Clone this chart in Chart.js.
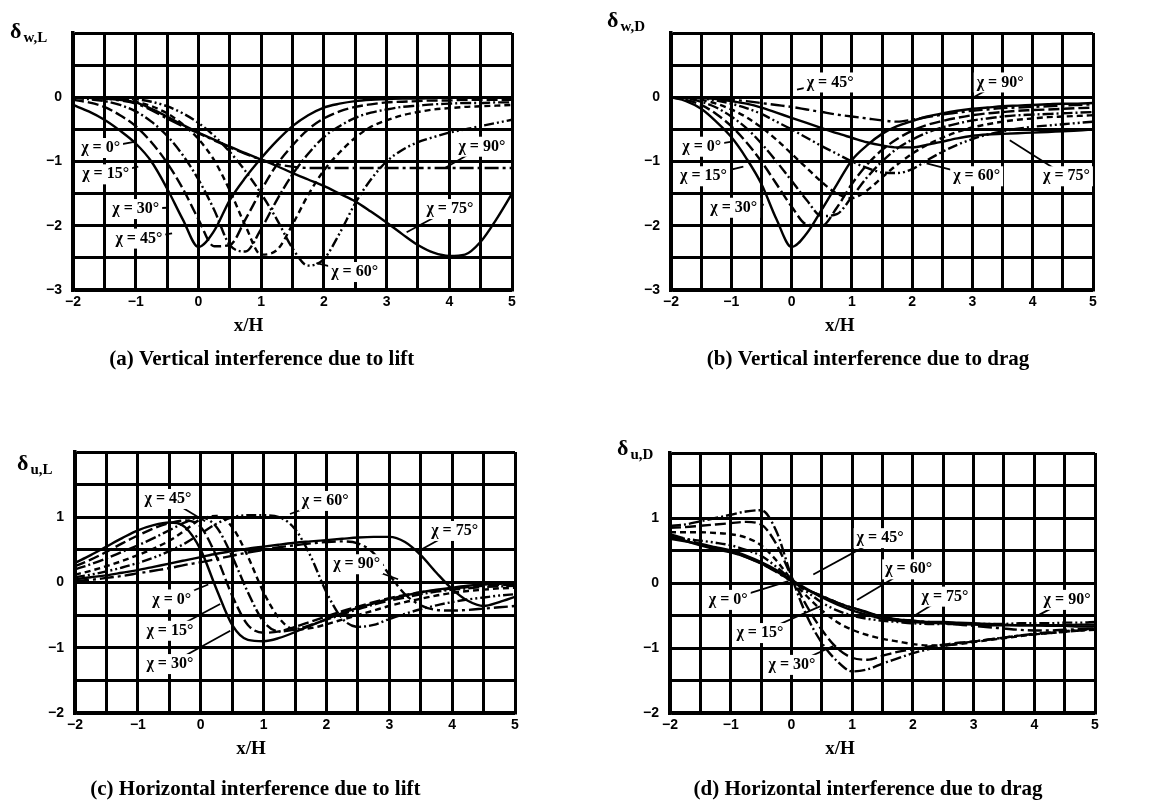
<!DOCTYPE html>
<html>
<head>
<meta charset="utf-8">
<title>Wall interference factors</title>
<script src="https://cdn.jsdelivr.net/npm/chart.js@4.4.1/dist/chart.umd.min.js"></script>
<style>
  html, body { margin: 0; padding: 0; background: #fff; }
  body { position: relative; width: 1156px; height: 812px; overflow: hidden; }
  canvas { position: absolute; }
</style>
</head>
<body>
<canvas id="pa" width="578" height="400" style="left:0;top:0"></canvas>
<canvas id="pb" width="578" height="400" style="left:578px;top:0"></canvas>
<canvas id="pc" width="578" height="412" style="left:0;top:400px"></canvas>
<canvas id="pd" width="578" height="412" style="left:578px;top:400px"></canvas>
<script>
// x/H stations shared by every curve
const xH = [-2, -1.75, -1.5, -1.25, -1, -0.75, -0.5, -0.25, 0, 0.25, 0.5, 0.75, 1, 1.25, 1.5, 1.75, 2,
            2.25, 2.5, 2.75, 3, 3.25, 3.5, 3.75, 4, 4.25, 4.5, 4.75, 5];
const chiNames = ['χ = 0°', 'χ = 15°', 'χ = 30°', 'χ = 45°', 'χ = 60°', 'χ = 75°', 'χ = 90°'];

// (a) vertical interference due to lift
const a0  = [-0.12,-0.22,-0.35,-0.52,-0.72,-1.0,-1.42,-1.9,-2.33,-2.08,-1.6,-1.25,-0.95,-0.68,-0.45,-0.28,-0.16,-0.1,-0.06,-0.04,-0.03,-0.02,-0.02,-0.01,-0.01,0,0,0,0];
const a15 = [-0.04,-0.08,-0.15,-0.28,-0.45,-0.7,-1.02,-1.42,-1.9,-2.32,-2.3,-1.9,-1.45,-1.05,-0.75,-0.5,-0.33,-0.22,-0.15,-0.11,-0.08,-0.07,-0.06,-0.05,-0.05,-0.04,-0.04,-0.04,-0.04];
const a30 = [-0.01,-0.03,-0.06,-0.12,-0.22,-0.38,-0.6,-0.9,-1.28,-1.75,-2.3,-2.4,-2.05,-1.6,-1.2,-0.88,-0.62,-0.45,-0.32,-0.24,-0.19,-0.15,-0.13,-0.11,-0.1,-0.09,-0.09,-0.08,-0.08];
const a45 = [0,0,-0.01,-0.03,-0.07,-0.14,-0.25,-0.42,-0.65,-0.98,-1.45,-2.0,-2.45,-2.38,-1.98,-1.52,-1.14,-0.86,-0.63,-0.46,-0.36,-0.28,-0.23,-0.19,-0.17,-0.15,-0.14,-0.13,-0.12];
const a60 = [0,0,0,-0.01,-0.03,-0.07,-0.14,-0.25,-0.4,-0.6,-0.85,-1.15,-1.5,-1.9,-2.35,-2.62,-2.52,-2.12,-1.65,-1.28,-1.0,-0.82,-0.7,-0.62,-0.55,-0.5,-0.45,-0.4,-0.35];
const a75 = [0,-0.01,-0.02,-0.04,-0.08,-0.18,-0.3,-0.43,-0.55,-0.66,-0.77,-0.87,-0.97,-1.07,-1.18,-1.28,-1.38,-1.5,-1.62,-1.78,-1.95,-2.13,-2.3,-2.42,-2.47,-2.45,-2.25,-1.9,-1.5];
const a90 = [0,-0.01,-0.02,-0.05,-0.1,-0.2,-0.33,-0.45,-0.56,-0.67,-0.78,-0.88,-0.97,-1.04,-1.08,-1.1,-1.1,-1.1,-1.1,-1.1,-1.1,-1.1,-1.1,-1.1,-1.1,-1.1,-1.1,-1.1,-1.1];

// (b) vertical interference due to drag
const b0  = [0,-0.06,-0.18,-0.38,-0.62,-0.95,-1.35,-1.9,-2.33,-2.12,-1.75,-1.36,-0.98,-0.75,-0.57,-0.45,-0.37,-0.3,-0.25,-0.21,-0.18,-0.16,-0.14,-0.13,-0.12,-0.11,-0.1,-0.1,-0.09];
const b15 = [0,-0.04,-0.12,-0.26,-0.45,-0.7,-1.0,-1.35,-1.7,-1.98,-2.0,-1.72,-1.35,-1.05,-0.82,-0.65,-0.52,-0.43,-0.37,-0.32,-0.28,-0.25,-0.23,-0.21,-0.2,-0.19,-0.18,-0.17,-0.16];
const b30 = [0,-0.02,-0.07,-0.16,-0.3,-0.48,-0.72,-1.0,-1.3,-1.6,-1.85,-1.82,-1.55,-1.25,-1.0,-0.8,-0.66,-0.55,-0.47,-0.41,-0.36,-0.33,-0.3,-0.28,-0.27,-0.26,-0.25,-0.24,-0.23];
const b45 = [0,-0.01,-0.04,-0.1,-0.19,-0.31,-0.47,-0.66,-0.88,-1.1,-1.32,-1.5,-1.57,-1.45,-1.25,-1.05,-0.88,-0.74,-0.63,-0.54,-0.47,-0.42,-0.38,-0.35,-0.33,-0.31,-0.3,-0.29,-0.28];
const b60 = [0,-0.01,-0.02,-0.05,-0.1,-0.17,-0.26,-0.38,-0.5,-0.63,-0.76,-0.88,-1.0,-1.1,-1.17,-1.18,-1.12,-0.98,-0.85,-0.74,-0.65,-0.58,-0.53,-0.49,-0.46,-0.44,-0.42,-0.4,-0.38];
const b75 = [0,0,-0.01,-0.03,-0.06,-0.1,-0.16,-0.24,-0.32,-0.4,-0.48,-0.56,-0.63,-0.7,-0.75,-0.78,-0.78,-0.74,-0.69,-0.64,-0.6,-0.58,-0.57,-0.56,-0.55,-0.54,-0.53,-0.52,-0.5];
const b90 = [0,0,-0.01,-0.02,-0.04,-0.06,-0.09,-0.12,-0.15,-0.19,-0.23,-0.27,-0.3,-0.33,-0.36,-0.38,-0.35,-0.31,-0.27,-0.24,-0.21,-0.19,-0.17,-0.16,-0.15,-0.14,-0.13,-0.12,-0.11];

// (c) horizontal interference due to lift
const c0  = [0.3,0.42,0.55,0.68,0.8,0.88,0.92,0.85,0.5,-0.1,-0.65,-0.88,-0.9,-0.85,-0.76,-0.66,-0.56,-0.47,-0.39,-0.32,-0.25,-0.2,-0.15,-0.11,-0.08,-0.05,-0.03,-0.02,-0.01];
const c15 = [0.25,0.35,0.47,0.6,0.72,0.83,0.91,0.95,0.85,0.4,-0.2,-0.65,-0.77,-0.75,-0.68,-0.6,-0.52,-0.44,-0.37,-0.3,-0.24,-0.19,-0.15,-0.12,-0.09,-0.07,-0.05,-0.04,-0.03];
const c30 = [0.2,0.28,0.37,0.47,0.57,0.68,0.8,0.92,1.0,0.85,0.4,-0.15,-0.6,-0.75,-0.72,-0.65,-0.57,-0.49,-0.41,-0.34,-0.28,-0.23,-0.18,-0.14,-0.11,-0.09,-0.07,-0.06,-0.05];
const c45 = [0.12,0.18,0.25,0.33,0.42,0.52,0.64,0.8,0.97,1.02,0.85,0.4,-0.15,-0.55,-0.72,-0.7,-0.64,-0.57,-0.5,-0.43,-0.36,-0.3,-0.25,-0.2,-0.16,-0.13,-0.11,-0.09,-0.08];
const c60 = [0.08,0.12,0.17,0.23,0.3,0.38,0.48,0.6,0.75,0.9,1.0,1.03,1.03,1.0,0.82,0.4,-0.15,-0.55,-0.68,-0.65,-0.56,-0.48,-0.41,-0.35,-0.3,-0.26,-0.23,-0.2,-0.18];
const c75 = [0.05,0.08,0.11,0.15,0.19,0.24,0.29,0.34,0.39,0.44,0.48,0.52,0.55,0.58,0.61,0.63,0.65,0.67,0.69,0.7,0.7,0.62,0.42,0.15,-0.1,-0.28,-0.36,-0.3,-0.22];
const c90 = [0.02,0.04,0.07,0.1,0.14,0.18,0.22,0.27,0.31,0.36,0.41,0.46,0.5,0.54,0.57,0.6,0.62,0.63,0.6,0.45,0.12,-0.18,-0.35,-0.42,-0.43,-0.42,-0.4,-0.38,-0.36];

// (d) horizontal interference due to drag
const d0  = [0.72,0.65,0.58,0.52,0.47,0.4,0.3,0.18,0.03,-0.1,-0.2,-0.3,-0.38,-0.45,-0.52,-0.56,-0.58,-0.6,-0.6,-0.61,-0.62,-0.63,-0.64,-0.65,-0.65,-0.66,-0.66,-0.67,-0.67];
const d15 = [0.85,0.86,0.88,0.9,0.92,0.94,0.9,0.6,0.1,-0.35,-0.72,-1.0,-1.15,-1.18,-1.12,-1.06,-1.02,-0.98,-0.95,-0.92,-0.9,-0.87,-0.84,-0.81,-0.79,-0.77,-0.75,-0.73,-0.72];
const d30 = [0.88,0.9,0.95,1.0,1.05,1.1,1.12,0.8,0.1,-0.5,-0.92,-1.2,-1.36,-1.33,-1.24,-1.16,-1.08,-1.02,-0.97,-0.93,-0.9,-0.87,-0.84,-0.81,-0.78,-0.76,-0.74,-0.72,-0.7];
const d45 = [0.78,0.78,0.78,0.77,0.75,0.7,0.58,0.35,0.05,-0.2,-0.42,-0.6,-0.72,-0.8,-0.86,-0.9,-0.94,-0.96,-0.96,-0.94,-0.91,-0.88,-0.85,-0.82,-0.79,-0.77,-0.75,-0.73,-0.71];
const d60 = [0.7,0.68,0.65,0.62,0.58,0.51,0.42,0.25,0.05,-0.13,-0.3,-0.42,-0.5,-0.55,-0.58,-0.6,-0.62,-0.63,-0.63,-0.63,-0.63,-0.63,-0.63,-0.62,-0.62,-0.62,-0.61,-0.61,-0.6];
const d75 = [0.68,0.64,0.6,0.55,0.5,0.42,0.32,0.2,0.05,-0.09,-0.22,-0.33,-0.42,-0.49,-0.55,-0.58,-0.6,-0.61,-0.62,-0.63,-0.64,-0.65,-0.65,-0.65,-0.65,-0.65,-0.65,-0.64,-0.64];
const d90 = [0.75,0.68,0.6,0.54,0.48,0.4,0.3,0.17,0.03,-0.1,-0.2,-0.3,-0.38,-0.46,-0.52,-0.56,-0.58,-0.6,-0.62,-0.64,-0.66,-0.68,-0.7,-0.72,-0.73,-0.73,-0.72,-0.71,-0.7];

// curve labels: [text, label x, label y, arrow tip x, arrow tip y] in data units
const aLabels = [
  ['χ = 0°', -1.56, -0.79, -1.0, -0.69], ['χ = 15°', -1.48, -1.2, -0.96, -1.08],
  ['χ = 30°', -1.0, -1.74, -0.5, -1.72], ['χ = 45°', -0.95, -2.2, -0.42, -2.12],
  ['χ = 60°', 2.49, -2.72, 1.88, -2.58], ['χ = 75°', 4.01, -1.74, 3.32, -2.1],
  ['χ = 90°', 4.52, -0.77, 3.93, -1.1]
];
const bLabels = [
  ['χ = 45°', 0.64, 0.23, 0.09, 0.12], ['χ = 90°', 3.46, 0.23, 3.02, 0.0],
  ['χ = 0°', -1.49, -0.77, -0.99, -0.69], ['χ = 15°', -1.46, -1.23, -0.8, -1.08],
  ['χ = 30°', -0.96, -1.72, -0.46, -1.67], ['χ = 60°', 3.07, -1.23, 2.24, -1.03],
  ['χ = 75°', 4.56, -1.23, 3.62, -0.67]
];
const cLabels = [
  ['χ = 45°', -0.52, 1.28, 0.07, 0.94], ['χ = 60°', 1.98, 1.25, 1.42, 1.05],
  ['χ = 75°', 4.04, 0.79, 3.46, 0.48], ['χ = 90°', 2.48, 0.28, 3.14, 0.05],
  ['χ = 0°', -0.46, -0.26, 0.12, -0.03], ['χ = 15°', -0.49, -0.74, 0.31, -0.33],
  ['χ = 30°', -0.49, -1.25, 0.47, -0.74]
];
const dLabels = [
  ['χ = 45°', 1.46, 0.69, 0.36, 0.13], ['χ = 60°', 1.93, 0.21, 1.08, -0.26],
  ['χ = 75°', 2.53, -0.21, 2.01, -0.51], ['χ = 90°', 4.54, -0.26, 4.04, -0.51],
  ['χ = 0°', -1.04, -0.26, -0.05, 0.03], ['χ = 15°', -0.52, -0.77, 0.47, -0.36],
  ['χ = 30°', 0.01, -1.26, 0.69, -0.97]
];

const dashes = [[], [11, 4], [11, 3, 2, 3], [6, 4], [10, 3, 2, 3, 2, 3], [], [14, 4, 3, 4]];
const serif = '"Liberation Serif", "DejaVu Serif", serif';

function makeSets(series) {
  return series.map((vals, i) => ({
    label: chiNames[i],
    data: vals.map((v, j) => ({ x: xH[j], y: v })),
    borderColor: '#000',
    borderWidth: 2.4,
    borderDash: dashes[i],
    pointRadius: 0,
    cubicInterpolationMode: 'monotone',
    fill: false
  }));
}

function num(v) {
  return v < 0 ? '\u2212' + (-v) : String(v);
}

// labels, axis symbol, x/H and the caption
const panelText = {
  id: 'panelText',
  afterDatasetsDraw(chart, args, o) {
    const ctx = chart.ctx, xs = chart.scales.x, ys = chart.scales.y;
    ctx.save();
    ctx.font = 'bold 16px ' + serif;
    ctx.textAlign = 'center';
    ctx.textBaseline = 'middle';
    o.labels.forEach(l => {
      const px = xs.getPixelForValue(l[1]), py = ys.getPixelForValue(l[2]);
      ctx.beginPath();
      ctx.moveTo(px, py);
      ctx.lineTo(xs.getPixelForValue(l[3]), ys.getPixelForValue(l[4]));
      ctx.lineWidth = 1.8;
      ctx.strokeStyle = '#000';
      ctx.stroke();
      const w = ctx.measureText(l[0]).width;
      ctx.fillStyle = '#fff';
      ctx.fillRect(px - w / 2 - 3, py - 10, w + 6, 20);
      ctx.fillStyle = '#000';
      ctx.fillText(l[0], px, py);
    });
    ctx.restore();
  },
  afterDraw(chart, args, o) {
    const ctx = chart.ctx, a = chart.chartArea;
    ctx.save();
    ctx.fillStyle = '#000';
    ctx.textBaseline = 'alphabetic';
    ctx.textAlign = 'left';
    const sx = a.left + o.symDx, sy = a.top + o.symDy;
    ctx.font = 'bold 22px ' + serif;
    ctx.fillText('δ', sx, sy);
    const dw = ctx.measureText('δ').width;
    ctx.font = 'bold 15px ' + serif;
    ctx.fillText(o.sub, sx + dw + 2, sy + 4);
    ctx.textAlign = 'center';
    ctx.textBaseline = 'middle';
    ctx.font = 'bold 19px ' + serif;
    ctx.fillText('x/H', a.left + 0.4 * (a.right - a.left), a.bottom + 36);
    ctx.font = 'bold 21px ' + serif;
    ctx.fillText(o.caption, a.left + o.capX * (a.right - a.left), a.bottom + o.capDy);
    ctx.restore();
  }
};

function panel(id, series, yMin, yMax, sub, caption, labels, geo) {
  const tickFont = { family: '"Liberation Sans", Arial, sans-serif', size: 14, weight: 'bold' };
  new Chart(document.getElementById(id), {
    type: 'line',
    data: { datasets: makeSets(series) },
    options: {
      responsive: false,
      animation: false,
      devicePixelRatio: 1,
      layout: { padding: { left: 0, top: geo.top, right: geo.right, bottom: geo.bottom } },
      plugins: {
        legend: { display: false },
        tooltip: { enabled: false },
        panelText: { sub, caption, labels, symDx: geo.symDx, symDy: geo.symDy, capX: geo.capX, capDy: geo.capDy }
      },
      scales: {
        x: {
          type: 'linear', min: -2, max: 5,
          ticks: {
            stepSize: 0.5, autoSkip: false, maxRotation: 0, padding: 4, color: '#000', font: tickFont,
            callback: v => Number.isInteger(v) ? num(v) : ''
          },
          grid: { color: '#000', lineWidth: 3, drawTicks: false },
          border: { color: '#000', width: 3.5 },
          afterFit: s => { s.height = 30; s.paddingLeft = 0; s.paddingRight = 0; }
        },
        y: {
          min: yMin, max: yMax,
          ticks: {
            stepSize: 0.5, autoSkip: false, padding: 11, color: '#000', font: tickFont,
            callback: v => (Number.isInteger(v) && v !== yMax) ? num(v) : ''
          },
          grid: { color: '#000', lineWidth: 3, drawTicks: false },
          border: { color: '#000', width: 3.5 },
          afterFit: s => { s.width = geo.yw; s.paddingTop = 0; s.paddingBottom = 0; }
        }
      }
    },
    plugins: [panelText]
  });
}

panel('pa', [a0, a15, a30, a45, a60, a75, a90], -3, 1, 'w,L',
  '(a) Vertical interference due to lift', aLabels,
  { top: 33, right: 66, bottom: 80, yw: 73, symDx: -63, symDy: 5, capX: 0.43, capDy: 70 });
panel('pb', [b0, b15, b30, b45, b60, b75, b90], -3, 1, 'w,D',
  '(b) Vertical interference due to drag', bLabels,
  { top: 33, right: 63, bottom: 80, yw: 93, symDx: -64, symDy: -6, capX: 0.467, capDy: 70 });
panel('pc', [c0, c15, c30, c45, c60, c75, c90], -2, 2, 'u,L',
  '(c) Horizontal interference due to lift', cLabels,
  { top: 52, right: 63, bottom: 69, yw: 75, symDx: -58, symDy: 18, capX: 0.41, capDy: 77 });
panel('pd', [d0, d15, d30, d45, d60, d75, d90], -2, 2, 'u,D',
  '(d) Horizontal interference due to drag', dLabels,
  { top: 53, right: 61, bottom: 69, yw: 92, symDx: -53, symDy: 2, capX: 0.466, capDy: 77 });
</script>
</body>
</html>
